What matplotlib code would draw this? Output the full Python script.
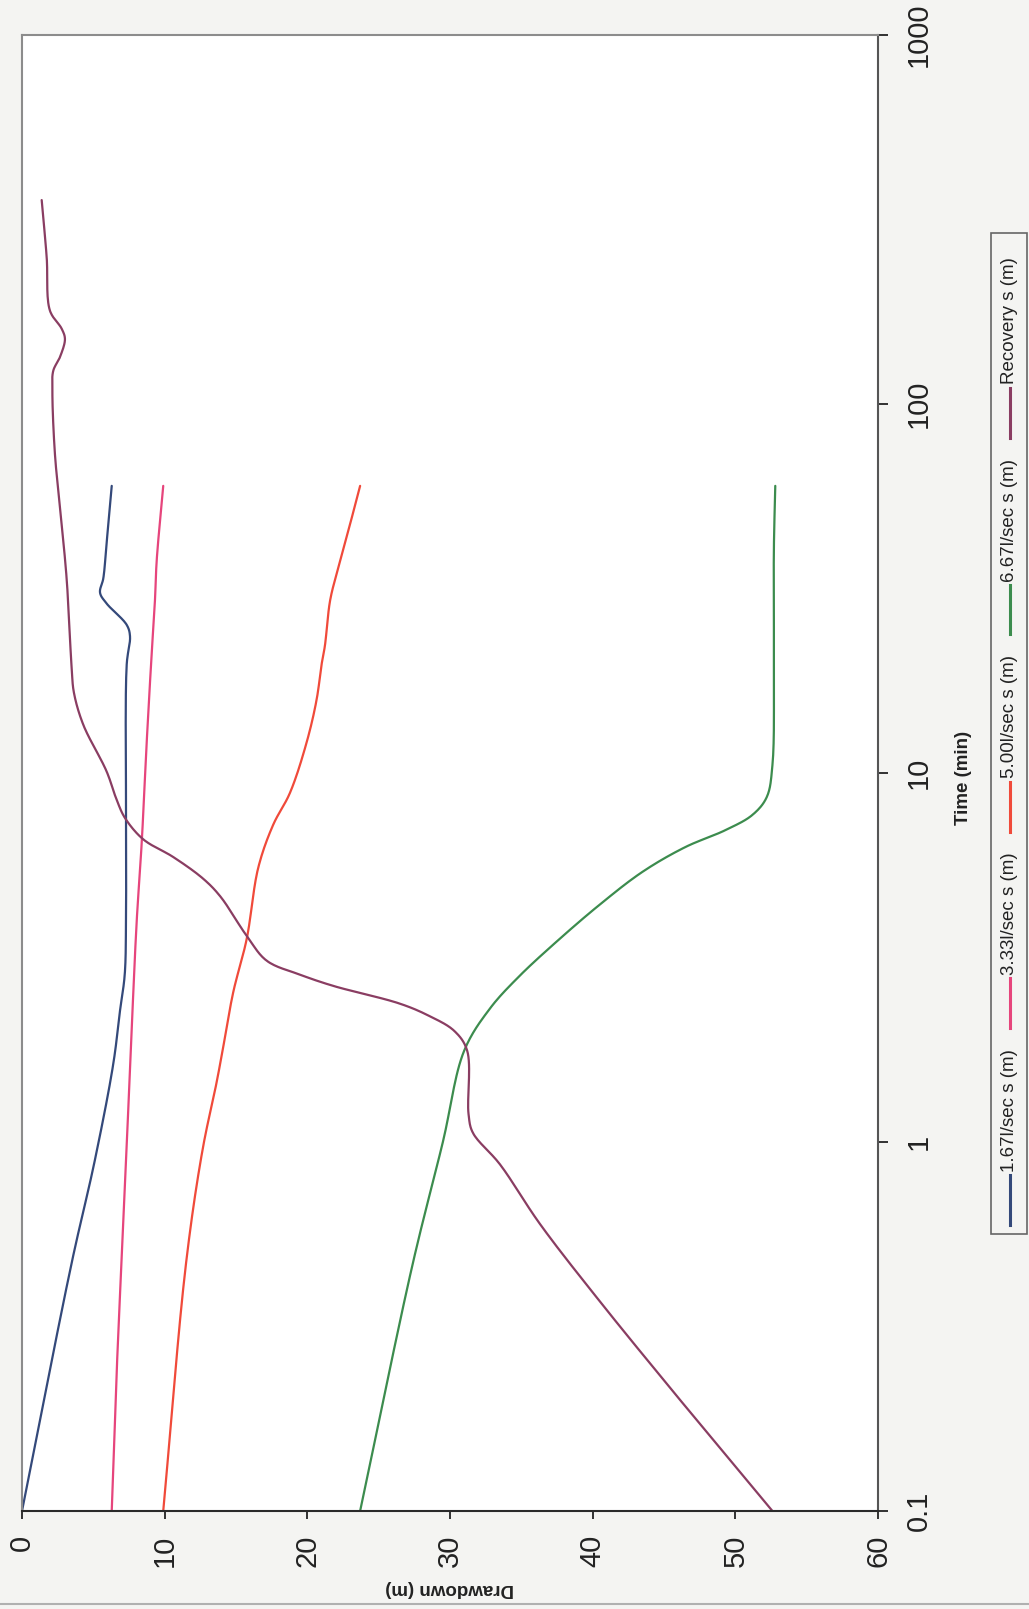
import matplotlib
matplotlib.use('Agg')
import numpy as np
import matplotlib.pyplot as plt
from matplotlib.lines import Line2D
from matplotlib.patches import Rectangle
from matplotlib.ticker import NullLocator

plt.rcParams['font.family'] = ['Liberation Sans', 'DejaVu Sans']

# ---------------- data ----------------
series_names = ['1.67l/sec s (m)', '3.33l/sec s (m)', '5.00l/sec s (m)',
                '6.67l/sec s (m)', 'Recovery s (m)']
series_colors = ['#34497a', '#e6457c', '#f04a3a', '#3c8c4e', '#8a3d62']

t_167 = [0.1, 0.47, 0.89, 1.63, 2.27, 2.84, 3.97, 7.74, 19.7, 23.5, 25.2, 28.8, 30.8, 33.7, 42, 60]
s_167 = [0.0, 3.48, 5.1, 6.4, 6.87, 7.2, 7.29, 7.29, 7.34, 7.57, 7.34, 5.93, 5.47, 5.7, 5.93, 6.29]

t_333 = [0.1, 0.24, 0.9, 2.03, 3.97, 6.46, 12.1, 21.1, 29.4, 37.6, 60]
s_333 = [6.29, 6.64, 7.3, 7.69, 8.04, 8.39, 8.74, 9.09, 9.32, 9.44, 9.9]

t_500 = [0.1, 0.47, 0.95, 1.45, 1.77, 2.54, 3.55, 5.54, 7.23, 8.83, 12.1, 15.8, 19.7, 22.1, 29.4, 36, 47, 60]
s_500 = [9.9, 11.5, 12.65, 13.64, 14.06, 14.8, 15.75, 16.56, 17.6, 18.78, 19.95, 20.65, 21.0, 21.23, 21.6, 22.17, 22.98, 23.7]

t_667 = [0.1, 0.47, 1.0, 1.77, 2.3, 2.8, 3.5, 4.4, 5.4, 6.3, 7.0, 7.7, 8.6, 10.5, 20, 40, 60]
s_667 = [23.7, 27.4, 29.5, 31.0, 32.8, 34.8, 37.5, 40.5, 43.5, 46.5, 49.3, 51.2, 52.2, 52.6, 52.7, 52.7, 52.8]

t_rec = [0.1, 0.19, 0.37, 0.6, 0.87, 1.06, 1.19, 1.77, 2.0, 2.2, 2.37, 2.65, 2.84, 3.1, 3.62,
         4.63, 5.17, 5.92, 6.61, 7.55, 8.45, 10.1, 13.5, 16.5, 19.3, 33.6, 52.5, 73, 107,
         123, 134, 150, 160, 179, 250, 357]
s_rec = [52.6, 46.6, 40.5, 36.3, 33.5, 31.6, 31.3, 31.2, 30.3, 28.5, 26.5, 21.8, 19.5, 17.15, 15.75,
         13.9, 12.7, 10.6, 8.5, 7.22, 6.64, 5.93, 4.3, 3.64, 3.48, 3.13, 2.66, 2.31, 2.13,
         2.19, 2.66, 3.01, 2.78, 1.96, 1.73, 1.38]

drawdown_ticks = [0, 10, 20, 30, 40, 50, 60]
time_ticks = [0.1, 1, 10, 100, 1000]
time_ticklabels = ['0.1', '1', '10', '100', '1000']

x_title = 'Drawdown (m)'
t_title = 'Time (min)'

# ---------------- layout ----------------
W, H = 1029, 1609
fig = plt.figure(figsize=(W / 100, H / 100), dpi=100, facecolor='#f4f4f2')


def fx(px):
    return px / W


def fy(py):
    return 1 - py / H


AX_L, AX_R, AX_T, AX_B = 22, 878, 35, 1511
ax = fig.add_axes([fx(AX_L), fy(AX_B), fx(AX_R) - fx(AX_L), fy(AX_T) - fy(AX_B)])
ax.set_facecolor('white')
ax.set_yscale('log')
ax.set_ylim(0.1, 1000)
ax.set_xlim(0, 60)

# Excel-style "smoothed line": centripetal Catmull-Rom drawn in display space
px_per_unit = (AX_R - AX_L) / 60.0
px_per_dec = (AX_B - AX_T) / 4.0


def smoothed(t, s, n=16):
    p = np.column_stack([np.asarray(s, float) * px_per_unit,
                         np.log10(np.asarray(t, float)) * px_per_dec])
    P = np.vstack([2 * p[0] - p[1], p, 2 * p[-1] - p[-2]])
    out = []
    for i in range(1, len(P) - 2):
        p0, p1, p2, p3 = P[i - 1], P[i], P[i + 1], P[i + 2]
        t0 = 0.0
        t1 = t0 + max(np.linalg.norm(p1 - p0), 1e-6) ** 0.5
        t2 = t1 + max(np.linalg.norm(p2 - p1), 1e-6) ** 0.5
        t3 = t2 + max(np.linalg.norm(p3 - p2), 1e-6) ** 0.5
        u = np.linspace(t1, t2, n, endpoint=False)[:, None]
        A1 = (t1 - u) / (t1 - t0) * p0 + (u - t0) / (t1 - t0) * p1
        A2 = (t2 - u) / (t2 - t1) * p1 + (u - t1) / (t2 - t1) * p2
        A3 = (t3 - u) / (t3 - t2) * p2 + (u - t2) / (t3 - t2) * p3
        B1 = (t2 - u) / (t2 - t0) * A1 + (u - t0) / (t2 - t0) * A2
        B2 = (t3 - u) / (t3 - t1) * A2 + (u - t1) / (t3 - t1) * A3
        C = (t2 - u) / (t2 - t1) * B1 + (u - t1) / (t2 - t1) * B2
        out.append(C)
    out.append(p[-1][None, :])
    c = np.vstack(out)
    return c[:, 0] / px_per_unit, 10 ** (c[:, 1] / px_per_dec)


all_t = [t_167, t_333, t_500, t_667, t_rec]
all_s = [s_167, s_333, s_500, s_667, s_rec]
for t, s, c in zip(all_t, all_s, series_colors):
    xs, ys = smoothed(t, s)
    ax.plot(xs, ys, color=c, lw=1.6, solid_joinstyle='round', solid_capstyle='round')

ax.set_xticks(drawdown_ticks)
ax.set_xticklabels([str(v) for v in drawdown_ticks], rotation=90)
ax.yaxis.tick_right()
ax.set_yticks(time_ticks)
ax.set_yticklabels(time_ticklabels, rotation=90, va='center')
ax.yaxis.set_minor_locator(NullLocator())
ax.xaxis.set_minor_locator(NullLocator())

ax.tick_params(axis='x', direction='out', length=6, width=1.3, pad=11,
               labelsize=21, colors='#222222')
ax.tick_params(axis='y', direction='out', length=7, width=1.3, pad=12,
               labelsize=21, colors='#222222')
for lab in ax.get_yticklabels():
    lab.set_ha('left')

ax.spines['left'].set_color('#8c8c8c')
ax.spines['top'].set_color('#8c8c8c')
ax.spines['bottom'].set_color('#2a2a2a')
ax.spines['right'].set_color('#555555')
for sp in ax.spines.values():
    sp.set_linewidth(1.5)

fig.text(fx(450), fy(1588), x_title, rotation=180, ha='center', va='center',
         fontsize=13.5, fontweight='bold', color='#222222')
fig.text(fx(964), fy(778), t_title, rotation=90, ha='center', va='center',
         fontsize=13.5, fontweight='bold', color='#222222')

# ---------------- legend (rotated, drawn by hand) ----------------
renderer = fig.canvas.get_renderer()
leg_x = 1010
box_top, box_bot = 233, 1234
fig.add_artist(Rectangle((fx(991), fy(box_bot)), fx(1027) - fx(991), fy(box_top) - fy(box_bot),
                         transform=fig.transFigure, facecolor='none', edgecolor='#666666', lw=1.2))
y = box_bot - 9
line_len = 50
for name, c in zip(series_names, series_colors):
    fig.add_artist(Line2D([fx(leg_x), fx(leg_x)], [fy(y), fy(y - line_len)],
                          transform=fig.transFigure, color=c, lw=2.2))
    y = y - line_len - 3
    txt = fig.text(fx(leg_x), fy(y), name, rotation=90, ha='center', va='bottom',
                   fontsize=13.5, color='#222222')
    bb = txt.get_window_extent(renderer)
    y = y - bb.height - 21

# scan edge line at the bottom
fig.add_artist(Line2D([0, 1], [fy(1604), fy(1604)], transform=fig.transFigure,
                      color='#b0b0b0', lw=1.5))

fig.savefig('out.png', dpi=100, facecolor=fig.get_facecolor())
